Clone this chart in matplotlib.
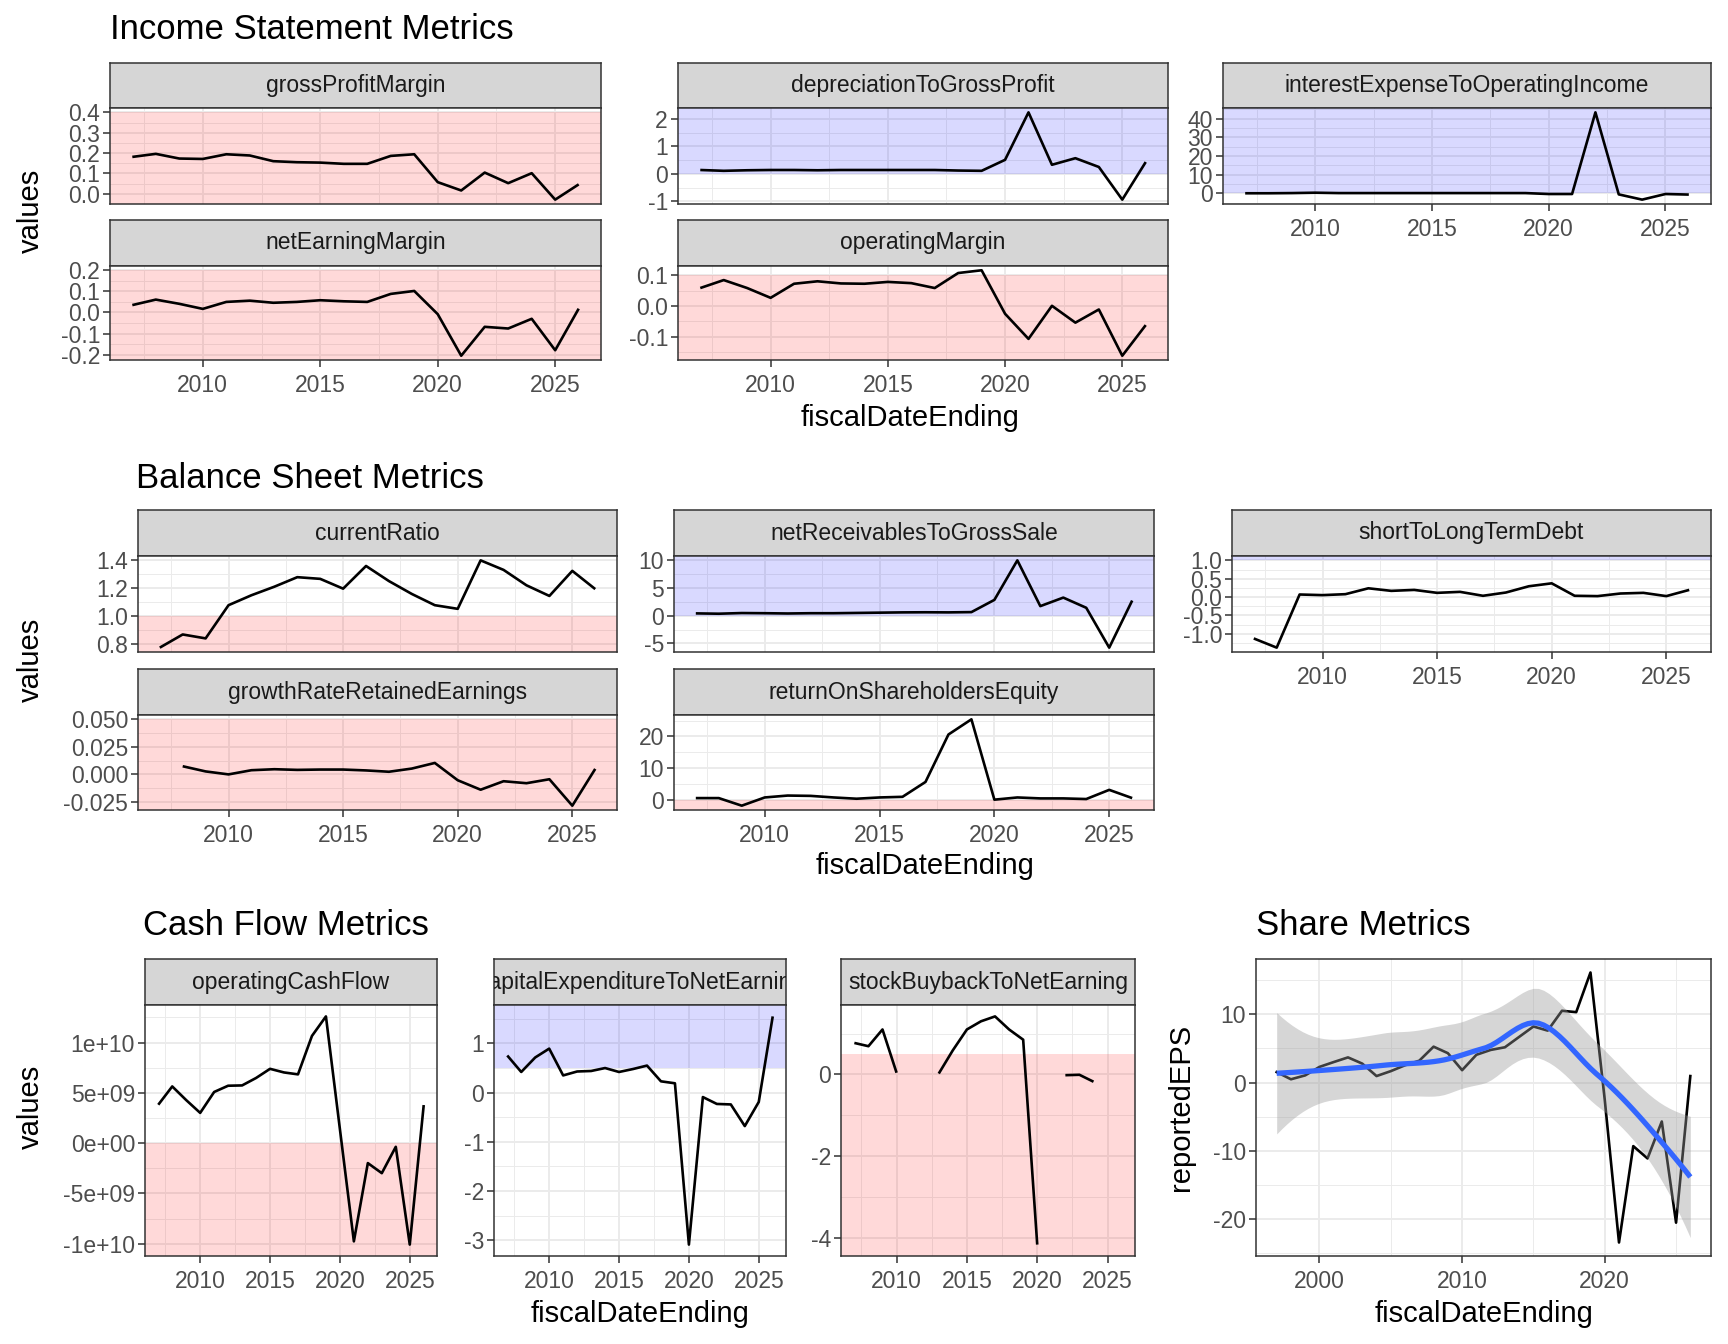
import numpy as np
import matplotlib
matplotlib.use("Agg")
import matplotlib.pyplot as plt

plt.rcParams['font.family'] = ['Liberation Sans', 'DejaVu Sans']

NAN = np.nan
# ---------------- data ----------------
years = list(range(2007, 2027))

gross_profit_margin = [0.181, 0.196, 0.173, 0.171, 0.194, 0.188, 0.160, 0.155, 0.153, 0.147,
                       0.147, 0.186, 0.194, 0.057, 0.016, 0.104, 0.052, 0.101, -0.029, 0.046]
net_earning_margin = [0.035, 0.061, 0.041, 0.017, 0.050, 0.056, 0.046, 0.050, 0.058, 0.053,
                      0.050, 0.088, 0.102, -0.008, -0.205, -0.068, -0.076, -0.030, -0.179, 0.018]
depreciation_to_gross_profit = [0.14, 0.11, 0.13, 0.14, 0.14, 0.13, 0.14, 0.14, 0.14, 0.14,
                                0.14, 0.12, 0.11, 0.51, 2.24, 0.33, 0.57, 0.25, -0.94, 0.43]
operating_margin = [0.059, 0.085, 0.059, 0.027, 0.073, 0.081, 0.074, 0.073, 0.079, 0.075,
                    0.059, 0.108, 0.117, -0.025, -0.107, 0.001, -0.054, -0.011, -0.162, -0.062]
interest_expense_to_operating_income = [0.1, 0.1, 0.2, 0.4, 0.2, 0.2, 0.2, 0.2, 0.2, 0.2,
                                        0.2, 0.2, 0.2, -0.3, -0.3, 43.3, -0.5, -3.3, -0.3, -0.6]

current_ratio = [0.772, 0.866, 0.838, 1.075, 1.146, 1.207, 1.275, 1.263, 1.193, 1.355,
                 1.247, 1.155, 1.075, 1.049, 1.395, 1.327, 1.217, 1.141, 1.320, 1.190]
growth_rate_retained_earnings = [NAN, 0.0074, 0.0027, 0.0000, 0.0038, 0.0047, 0.0041, 0.0044, 0.0044, 0.0036,
                                 0.0024, 0.0053, 0.0104, -0.0053, -0.0139, -0.0062, -0.0080, -0.0044, -0.0284, 0.0050]
net_receivables_to_gross_sale = [0.42, 0.36, 0.48, 0.45, 0.40, 0.45, 0.45, 0.50, 0.55, 0.60,
                                 0.62, 0.60, 0.65, 2.86, 10.0, 1.73, 3.27, 1.43, -5.77, 2.74]
return_on_shareholders_equity = [0.5, 0.5, -1.9, 0.7, 1.3, 1.2, 0.7, 0.3, 0.7, 0.9,
                                 5.6, 20.6, 25.4, 0.0, 0.7, 0.4, 0.4, 0.2, 3.1, 0.5]
short_to_long_term_debt = [-1.125, -1.375, 0.071, 0.054, 0.080, 0.240, 0.170, 0.196, 0.116, 0.143,
                           0.036, 0.125, 0.295, 0.375, 0.036, 0.027, 0.098, 0.116, 0.027, 0.196]

operating_cash_flow = [3.82e9, 5.64e9, 4.28e9, 3.01e9, 5.09e9, 5.71e9, 5.74e9, 6.48e9, 7.39e9, 7.03e9,
                       6.84e9, 10.66e9, 12.6e9, 1.4e9, -9.76e9, -1.98e9, -2.98e9, -0.36e9, -10.08e9, 3.79e9]
capital_expenditure_to_net_earning = [0.755, 0.42, 0.715, 0.895, 0.35, 0.43, 0.44, 0.50, 0.42, 0.48,
                                      0.55, 0.23, 0.19, -3.09, -0.09, -0.23, -0.24, -0.68, -0.19, 1.55]
stock_buyback_to_net_earning = [0.77, 0.69, 1.10, 0.04, NAN, NAN, 0.02, 0.59, 1.10, 1.30,
                                1.42, 1.10, 0.85, -4.17, NAN, -0.02, -0.01, -0.18, NAN, NAN]

eps_years = list(range(1997, 2027))
reported_eps = [1.53, 0.48, 1.05, 2.29, 3.00, 3.68, 2.77, 0.95, 1.67, 2.53,
                3.20, 5.25, 4.30, 1.81, 4.06, 4.77, 5.16, 6.68, 8.20, 7.60,
                10.5, 10.3, 16.1, -2.5, -23.4, -9.3, -11.1, -5.7, -20.5, 0.95]

# y-axis breaks / labels per panel
ticks_gpm = [0.0, 0.1, 0.2, 0.3, 0.4];        labels_gpm = ["0.0", "0.1", "0.2", "0.3", "0.4"]
ticks_nem = [-0.2, -0.1, 0.0, 0.1, 0.2];      labels_nem = ["-0.2", "-0.1", "0.0", "0.1", "0.2"]
ticks_dgp = [-1, 0, 1, 2];                    labels_dgp = ["-1", "0", "1", "2"]
ticks_om = [-0.1, 0.0, 0.1];                  labels_om = ["-0.1", "0.0", "0.1"]
ticks_ie = [0, 10, 20, 30, 40];               labels_ie = ["0", "10", "20", "30", "40"]
ticks_cr = [0.8, 1.0, 1.2, 1.4];              labels_cr = ["0.8", "1.0", "1.2", "1.4"]
ticks_gr = [-0.025, 0.0, 0.025, 0.05];        labels_gr = ["-0.025", "0.000", "0.025", "0.050"]
ticks_nr = [-5, 0, 5, 10];                    labels_nr = ["-5", "0", "5", "10"]
ticks_roe = [0, 10, 20];                      labels_roe = ["0", "10", "20"]
ticks_sl = [-1.0, -0.5, 0.0, 0.5, 1.0];       labels_sl = ["-1.0", "-0.5", "0.0", "0.5", "1.0"]
ticks_ocf = [-1e10, -5e9, 0, 5e9, 1e10];      labels_ocf = ["-1e+10", "-5e+09", "0e+00", "5e+09", "1e+10"]
ticks_ce = [-3, -2, -1, 0, 1];                labels_ce = ["-3", "-2", "-1", "0", "1"]
ticks_sb = [-4, -2, 0];                       labels_sb = ["-4", "-2", "0"]
ticks_eps = [-20, -10, 0, 10];                labels_eps = ["-20", "-10", "0", "10"]
xticks_fin = [2010, 2015, 2020, 2025]
xticks_eps = [2000, 2010, 2020]

# ---------------- style ----------------
W, H = 1728, 1344
fig = plt.figure(figsize=(W / 100, H / 100), dpi=100)
fig.patch.set_facecolor("white")

TICK_FS = 16.5
STRIP_FS = 16.5
AXT_FS = 21
TITLE_FS = 25
RED = "#FF0000"
BLUE = "#0000FF"
GRID = "#EBEBEB"
DARK = "#333333"


def px_axes(x0, x1, y0, y1):
    return fig.add_axes([x0 / W, 1 - y1 / H, (x1 - x0) / W, (y1 - y0) / H])


def limits(vals):
    v = np.array([a for a in vals if a is not None and np.isfinite(a)], dtype=float)
    lo, hi = v.min(), v.max()
    pad = 0.05 * (hi - lo)
    return lo - pad, hi + pad


def minors(ticks, lim):
    step = ticks[1] - ticks[0]
    m = np.arange(ticks[0] - step / 2, ticks[-1] + step, step)
    return [v for v in m if lim[0] <= v <= lim[1]]


def style(ax, xlim, ylim, xt, yt, ylab, show_x):
    ax.set_xlim(xlim)
    ax.set_ylim(ylim)
    ax.set_xticks(xt)
    ax.set_xticks(minors(xt, xlim), minor=True)
    ax.set_yticks(yt)
    ax.set_yticklabels(ylab)
    ax.set_yticks(minors(yt, ylim), minor=True)
    ax.set_axisbelow(True)
    ax.grid(which="major", color=GRID, lw=1.4)
    ax.grid(which="minor", color=GRID, lw=0.7)
    ax.tick_params(which="minor", length=0)
    ax.tick_params(which="major", length=5, width=1.1, color=DARK,
                   labelcolor="#4D4D4D", labelsize=TICK_FS, pad=2.2)
    ax.tick_params(axis="x", which="major", pad=5.0)
    if not show_x:
        ax.tick_params(axis="x", which="major", labelbottom=False, bottom=False)
    for s in ax.spines.values():
        s.set_color(DARK)
        s.set_linewidth(1.1)
        s.set_zorder(5)


def strip(x0, x1, y0, y1, label):
    s = px_axes(x0, x1, y0, y1)
    s.set_facecolor("#D6D6D6")
    s.set_xticks([])
    s.set_yticks([])
    for sp in s.spines.values():
        sp.set_color(DARK)
        sp.set_linewidth(1.1)
    s.text(0.5, 0.5, label, ha="center", va="center", fontsize=STRIP_FS,
           color="#1A1A1A", transform=s.transAxes, clip_on=True)


def facet(x0, x1, sy0, sy1, py0, py1, label, xv, yv, yt, ylab, shade, show_x):
    strip(x0, x1, sy0, sy1, label)
    ax = px_axes(x0, x1, py0, py1)
    lo, hi, col = shade
    ylim = limits(list(yv) + [b for b in (lo, hi) if b is not None])
    xlim = limits(xv)
    style(ax, xlim, ylim, xticks_fin, yt, ylab, show_x)
    ax.axhspan(ylim[0] if lo is None else lo,
               ylim[1] if hi is None else hi, color=col, alpha=0.15, lw=0, zorder=1)
    ax.set_ylim(ylim)
    ax.plot(xv, np.array(yv, dtype=float), color="black", lw=1.9, zorder=3, solid_capstyle="butt")
    return ax


def loess_interp(x, y, xs, span=0.75):
    """loess (degree 2, tricube) evaluated on kd-tree vertices and
    blended with cubic Hermite interpolation, as R's surface='interpolate'."""
    x = np.asarray(x, float)
    y = np.asarray(y, float)
    n = len(x)
    q = int(np.floor(n * span))
    fc = int(np.floor(n * span * 0.2))

    def local(x0):
        d = np.abs(x - x0)
        h = np.sort(d)[q - 1]
        w = np.clip(1 - (d / h) ** 3, 0, None) ** 3
        X = np.vstack([np.ones(n), x - x0, (x - x0) ** 2]).T
        XtW = X.T * w
        B = np.linalg.solve(XtW @ X, XtW)
        return B[0], B[1]

    xsrt = np.sort(x)
    cuts = []

    def split(l, u):
        if u - l + 1 <= fc:
            return
        m = (l + u) // 2
        cuts.append((xsrt[m] + xsrt[m + 1]) / 2)
        split(l, m)
        split(m + 1, u)

    split(0, n - 1)
    rng = xsrt[-1] - xsrt[0]
    verts = np.array(sorted([xsrt[0] - 0.005 * rng] + cuts + [xsrt[-1] + 0.005 * rng]))
    VL = []
    SL = []
    for v in verts:
        a, b = local(v)
        VL.append(a)
        SL.append(b)
    VL = np.array(VL)
    SL = np.array(SL)

    def rows(pts):
        out = []
        for p in pts:
            i = int(np.clip(np.searchsorted(verts, p) - 1, 0, len(verts) - 2))
            hh = verts[i + 1] - verts[i]
            t = (p - verts[i]) / hh
            h00 = 2 * t ** 3 - 3 * t ** 2 + 1
            h10 = t ** 3 - 2 * t ** 2 + t
            h01 = -2 * t ** 3 + 3 * t ** 2
            h11 = t ** 3 - t ** 2
            out.append(h00 * VL[i] + h10 * hh * SL[i] + h01 * VL[i + 1] + h11 * hh * SL[i + 1])
        return np.array(out)

    L = rows(x)
    Ls = rows(xs)
    fit = Ls @ y
    I = np.eye(n)
    R = (I - L).T @ (I - L)
    d1 = np.trace(R)
    d2 = np.trace(R @ R)
    sigma = np.sqrt(np.sum((y - L @ y) ** 2) / d1)
    se = sigma * np.sqrt(np.sum(Ls ** 2, axis=1))
    df = d1 ** 2 / d2
    z = 1.959964
    g1 = (z ** 3 + z) / 4
    g2 = (5 * z ** 5 + 16 * z ** 3 + 3 * z) / 96
    g3 = (3 * z ** 7 + 19 * z ** 5 + 17 * z ** 3 - 15 * z) / 384
    t = z + g1 / df + g2 / df ** 2 + g3 / df ** 3
    return fit, fit - t * se, fit + t * se


def title(x, y, s):
    fig.text(x / W, 1 - y / H, s, fontsize=TITLE_FS, ha="left", va="baseline")


def axtitle(x, y, s, rot=0):
    fig.text(x / W, 1 - y / H, s, fontsize=AXT_FS, ha="center", va="center", rotation=rot)


# ---------------- Row 1: Income Statement ----------------
r1_cols = [(110, 601), (678, 1168), (1223, 1711)]
S1 = (63, 108); P1 = (108, 204); S2 = (220, 266); P2 = (266, 360)
title(110, 39, "Income Statement Metrics")
facet(*r1_cols[0], *S1, *P1, "grossProfitMargin", years, gross_profit_margin,
      ticks_gpm, labels_gpm, (None, 0.4, RED), False)
facet(*r1_cols[1], *S1, *P1, "depreciationToGrossProfit", years, depreciation_to_gross_profit,
      ticks_dgp, labels_dgp, (0, None, BLUE), False)
facet(*r1_cols[2], *S1, *P1, "interestExpenseToOperatingIncome", years, interest_expense_to_operating_income,
      ticks_ie, labels_ie, (0, None, BLUE), True)
facet(*r1_cols[0], *S2, *P2, "netEarningMargin", years, net_earning_margin,
      ticks_nem, labels_nem, (None, 0.2, RED), True)
facet(*r1_cols[1], *S2, *P2, "operatingMargin", years, operating_margin,
      ticks_om, labels_om, (None, 0.1, RED), True)
axtitle(910, 418, "fiscalDateEnding")
axtitle(31, 211, "values", 90)

# ---------------- Row 2: Balance Sheet ----------------
r2_cols = [(138, 617), (674, 1154), (1232, 1711)]
S1 = (510, 556); P1 = (556, 652); S2 = (669, 715); P2 = (715, 810)
title(136, 488, "Balance Sheet Metrics")
facet(*r2_cols[0], *S1, *P1, "currentRatio", years, current_ratio,
      ticks_cr, labels_cr, (None, 1.0, RED), False)
facet(*r2_cols[1], *S1, *P1, "netReceivablesToGrossSale", years, net_receivables_to_gross_sale,
      ticks_nr, labels_nr, (0, None, BLUE), False)
facet(*r2_cols[2], *S1, *P1, "shortToLongTermDebt", years, short_to_long_term_debt,
      ticks_sl, labels_sl, (1.0, None, BLUE), True)
facet(*r2_cols[0], *S2, *P2, "growthRateRetainedEarnings", years, growth_rate_retained_earnings,
      ticks_gr, labels_gr, (None, 0.05, RED), True)
facet(*r2_cols[1], *S2, *P2, "returnOnShareholdersEquity", years, return_on_shareholders_equity,
      ticks_roe, labels_roe, (None, 0.0, RED), True)
axtitle(925, 866, "fiscalDateEnding")
axtitle(31, 660, "values", 90)

# ---------------- Row 3: Cash Flow ----------------
r3_cols = [(145, 437), (494, 786), (841, 1135)]
S1 = (959, 1005); P1 = (1005, 1256)
title(143, 935, "Cash Flow Metrics")
facet(*r3_cols[0], *S1, *P1, "operatingCashFlow", years, operating_cash_flow,
      ticks_ocf, labels_ocf, (None, 0.0, RED), True)
facet(*r3_cols[1], *S1, *P1, "capitalExpenditureToNetEarning", years, capital_expenditure_to_net_earning,
      ticks_ce, labels_ce, (0.5, None, BLUE), True)
facet(*r3_cols[2], *S1, *P1, "stockBuybackToNetEarning", years, stock_buyback_to_net_earning,
      ticks_sb, labels_sb, (None, 0.5, RED), True)
axtitle(640, 1314, "fiscalDateEnding")
axtitle(31, 1107, "values", 90)

# ---------------- Share Metrics ----------------
xs = np.linspace(min(eps_years), max(eps_years), 80)
fit, lo_band, hi_band = loess_interp(eps_years, reported_eps, xs)
ax = px_axes(1256, 1711, 959, 1256)
ylim = limits(list(reported_eps) + list(lo_band) + list(hi_band))
xlim = limits(eps_years)
style(ax, xlim, ylim, xticks_eps, ticks_eps, labels_eps, True)
ax.plot(eps_years, reported_eps, color="black", lw=1.9, zorder=2)
ax.fill_between(xs, lo_band, hi_band, color="#999999", alpha=0.4, lw=0, zorder=3)
ax.plot(xs, fit, color="#3366FF", lw=3.8, zorder=4, solid_capstyle="butt")
title(1256, 935, "Share Metrics")
axtitle(1484, 1314, "fiscalDateEnding")
axtitle(1181, 1107, "reportedEPS", 90)

fig.savefig("out.png", dpi=100, facecolor="white")
